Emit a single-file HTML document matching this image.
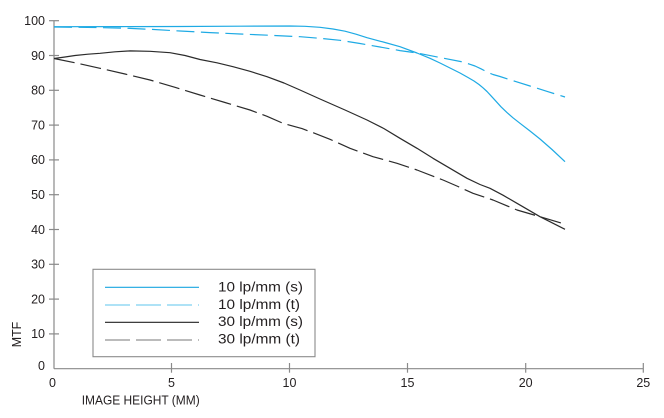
<!DOCTYPE html>
<html>
<head>
<meta charset="utf-8">
<style>
  html, body { margin: 0; padding: 0; background: #fff; }
  svg { display: block; }
  text { font-family: "Liberation Sans", "DejaVu Sans", sans-serif; fill: #231f20; }
</style>
</head>
<body>
<svg width="664" height="418" viewBox="0 0 664 418" xmlns="http://www.w3.org/2000/svg">
  <rect x="0" y="0" width="664" height="418" fill="#fff"/>

  <!-- axes -->
  <g stroke="#8a8a8a" stroke-width="1.2" fill="none">
    <line x1="54" y1="20.7" x2="54" y2="368.7"/>
    <line x1="54" y1="368.7" x2="643.5" y2="368.7"/>
    <!-- y ticks -->
    <line x1="49" y1="20.7" x2="59" y2="20.7"/>
    <line x1="49" y1="55.5" x2="59" y2="55.5"/>
    <line x1="49" y1="90.3" x2="59" y2="90.3"/>
    <line x1="49" y1="125.1" x2="59" y2="125.1"/>
    <line x1="49" y1="159.9" x2="59" y2="159.9"/>
    <line x1="49" y1="194.7" x2="59" y2="194.7"/>
    <line x1="49" y1="229.5" x2="59" y2="229.5"/>
    <line x1="49" y1="264.3" x2="59" y2="264.3"/>
    <line x1="49" y1="299.1" x2="59" y2="299.1"/>
    <line x1="49" y1="333.9" x2="59" y2="333.9"/>
    <!-- x ticks -->
    <line x1="171.5" y1="363" x2="171.5" y2="372.7"/>
    <line x1="289.5" y1="363" x2="289.5" y2="372.7"/>
    <line x1="407.5" y1="363" x2="407.5" y2="372.7"/>
    <line x1="525.7" y1="363" x2="525.7" y2="372.7"/>
    <line x1="643.3" y1="363" x2="643.3" y2="372.7"/>
  </g>

  <!-- y tick labels -->
  <g font-size="12.5" text-anchor="end">
    <text x="45" y="25">100</text>
    <text x="45" y="59.8">90</text>
    <text x="45" y="94.6">80</text>
    <text x="45" y="129.4">70</text>
    <text x="45" y="164.2">60</text>
    <text x="45" y="199">50</text>
    <text x="45" y="233.8">40</text>
    <text x="45" y="268.6">30</text>
    <text x="45" y="303.4">20</text>
    <text x="45" y="338.2">10</text>
    <text x="45" y="370">0</text>
  </g>

  <!-- x tick labels -->
  <g font-size="12.5" text-anchor="middle">
    <text x="52.5" y="387">0</text>
    <text x="171.5" y="387">5</text>
    <text x="289.5" y="387">10</text>
    <text x="407.5" y="387">15</text>
    <text x="525.7" y="387">20</text>
    <text x="643.3" y="387">25</text>
  </g>

  <!-- axis titles -->
  <text x="81.7" y="404.5" font-size="13" textLength="118" lengthAdjust="spacingAndGlyphs">IMAGE HEIGHT (MM)</text>
  <text transform="translate(21,347.3) rotate(-90)" font-size="13" textLength="25.6" lengthAdjust="spacingAndGlyphs">MTF</text>

  <!-- series -->
  <g fill="none" stroke-linejoin="round" stroke-linecap="butt">
    <!-- 10 lp/mm (s) -->
    <polyline stroke="#1eaae4" stroke-width="1.2"
      points="54,26.7 120,26.6 180,26.5 240,26.2 290,26 305,26.3 320,27.3 333,29 345,31.2 356,34.2 367,37.7 385,42.5 400,46.7 417,53 430,58.3 440,63 450,68 460,73 468,77.5 474,81 479,84.5 483,87.8 487,91.5 491,95.8 495,100.2 501,106.8 507,112.6 513,117.8 520,123.3 530,131 540,139 552,149.5 565,161.7"/>
    <!-- 10 lp/mm (t) -->
    <polyline stroke="#1eaae4" stroke-width="1.2" stroke-dasharray="18 6.5"
      points="54,27 100,27.6 130,28.4 150,29.3 180,31 210,32.6 240,34 270,35.3 300,36.7 320,38.3 340,40.3 360,43.5 380,47 400,50.6 417,53 440,57.5 463,62 470,64.3 475,66 481,68.8 487,72 493,74.5 500,76.5 515,81.3 530,86 548,91.7 565,97"/>
    <!-- 30 lp/mm (s) -->
    <polyline stroke="#2b2b2b" stroke-width="1.2"
      points="54,58.5 65,57 75,55.5 88,54.2 100,53.3 115,51.8 130,50.9 150,51.3 170,52.7 185,55.5 200,59.5 217,62.8 233,66.7 250,71.3 267,76.7 284,83 300,90 320,99 345,110 367,120 384,128.6 400,138.3 417,148.3 433,158.3 450,168.3 467,178.3 480,184.5 490,188.3 503,195.2 517,203.3 540,216.7 565,229.3"/>
    <!-- 30 lp/mm (t) -->
    <polyline stroke="#2b2b2b" stroke-width="1.2" stroke-dasharray="21 6"
      points="54,58.5 77,63.2 100,68.3 125,74 150,80 175,87.3 200,95 225,102.5 250,110 267,116.3 283,123.3 302,128.6 316,133.8 330,139.3 350,148.3 373,156.7 397,163.3 417,170 443,180 458,186.5 473,193.3 493,200 517,210 540,216.7 562,223.3"/>
  </g>

  <!-- legend -->
  <rect x="93" y="269.3" width="222" height="87.4" fill="#fff" stroke="#8a8a8a" stroke-width="1.1"/>
  <g fill="none" stroke-width="1.1">
    <line x1="105" y1="287.3" x2="199" y2="287.3" stroke="#1aa6e0"/>
    <line x1="105" y1="305" x2="199" y2="305" stroke="#5ec4ee" stroke-dasharray="25 6"/>
    <line x1="105" y1="322.3" x2="199" y2="322.3" stroke="#222"/>
    <line x1="105" y1="340" x2="199" y2="340" stroke="#777" stroke-dasharray="25 6"/>
  </g>
  <g font-size="13.5">
    <text x="218" y="291.7" textLength="85" lengthAdjust="spacingAndGlyphs">10 lp/mm (s)</text>
    <text x="218" y="308.8" textLength="82" lengthAdjust="spacingAndGlyphs">10 lp/mm (t)</text>
    <text x="218" y="326.2" textLength="85" lengthAdjust="spacingAndGlyphs">30 lp/mm (s)</text>
    <text x="218" y="343.5" textLength="82" lengthAdjust="spacingAndGlyphs">30 lp/mm (t)</text>
  </g>
</svg>
</body>
</html>
